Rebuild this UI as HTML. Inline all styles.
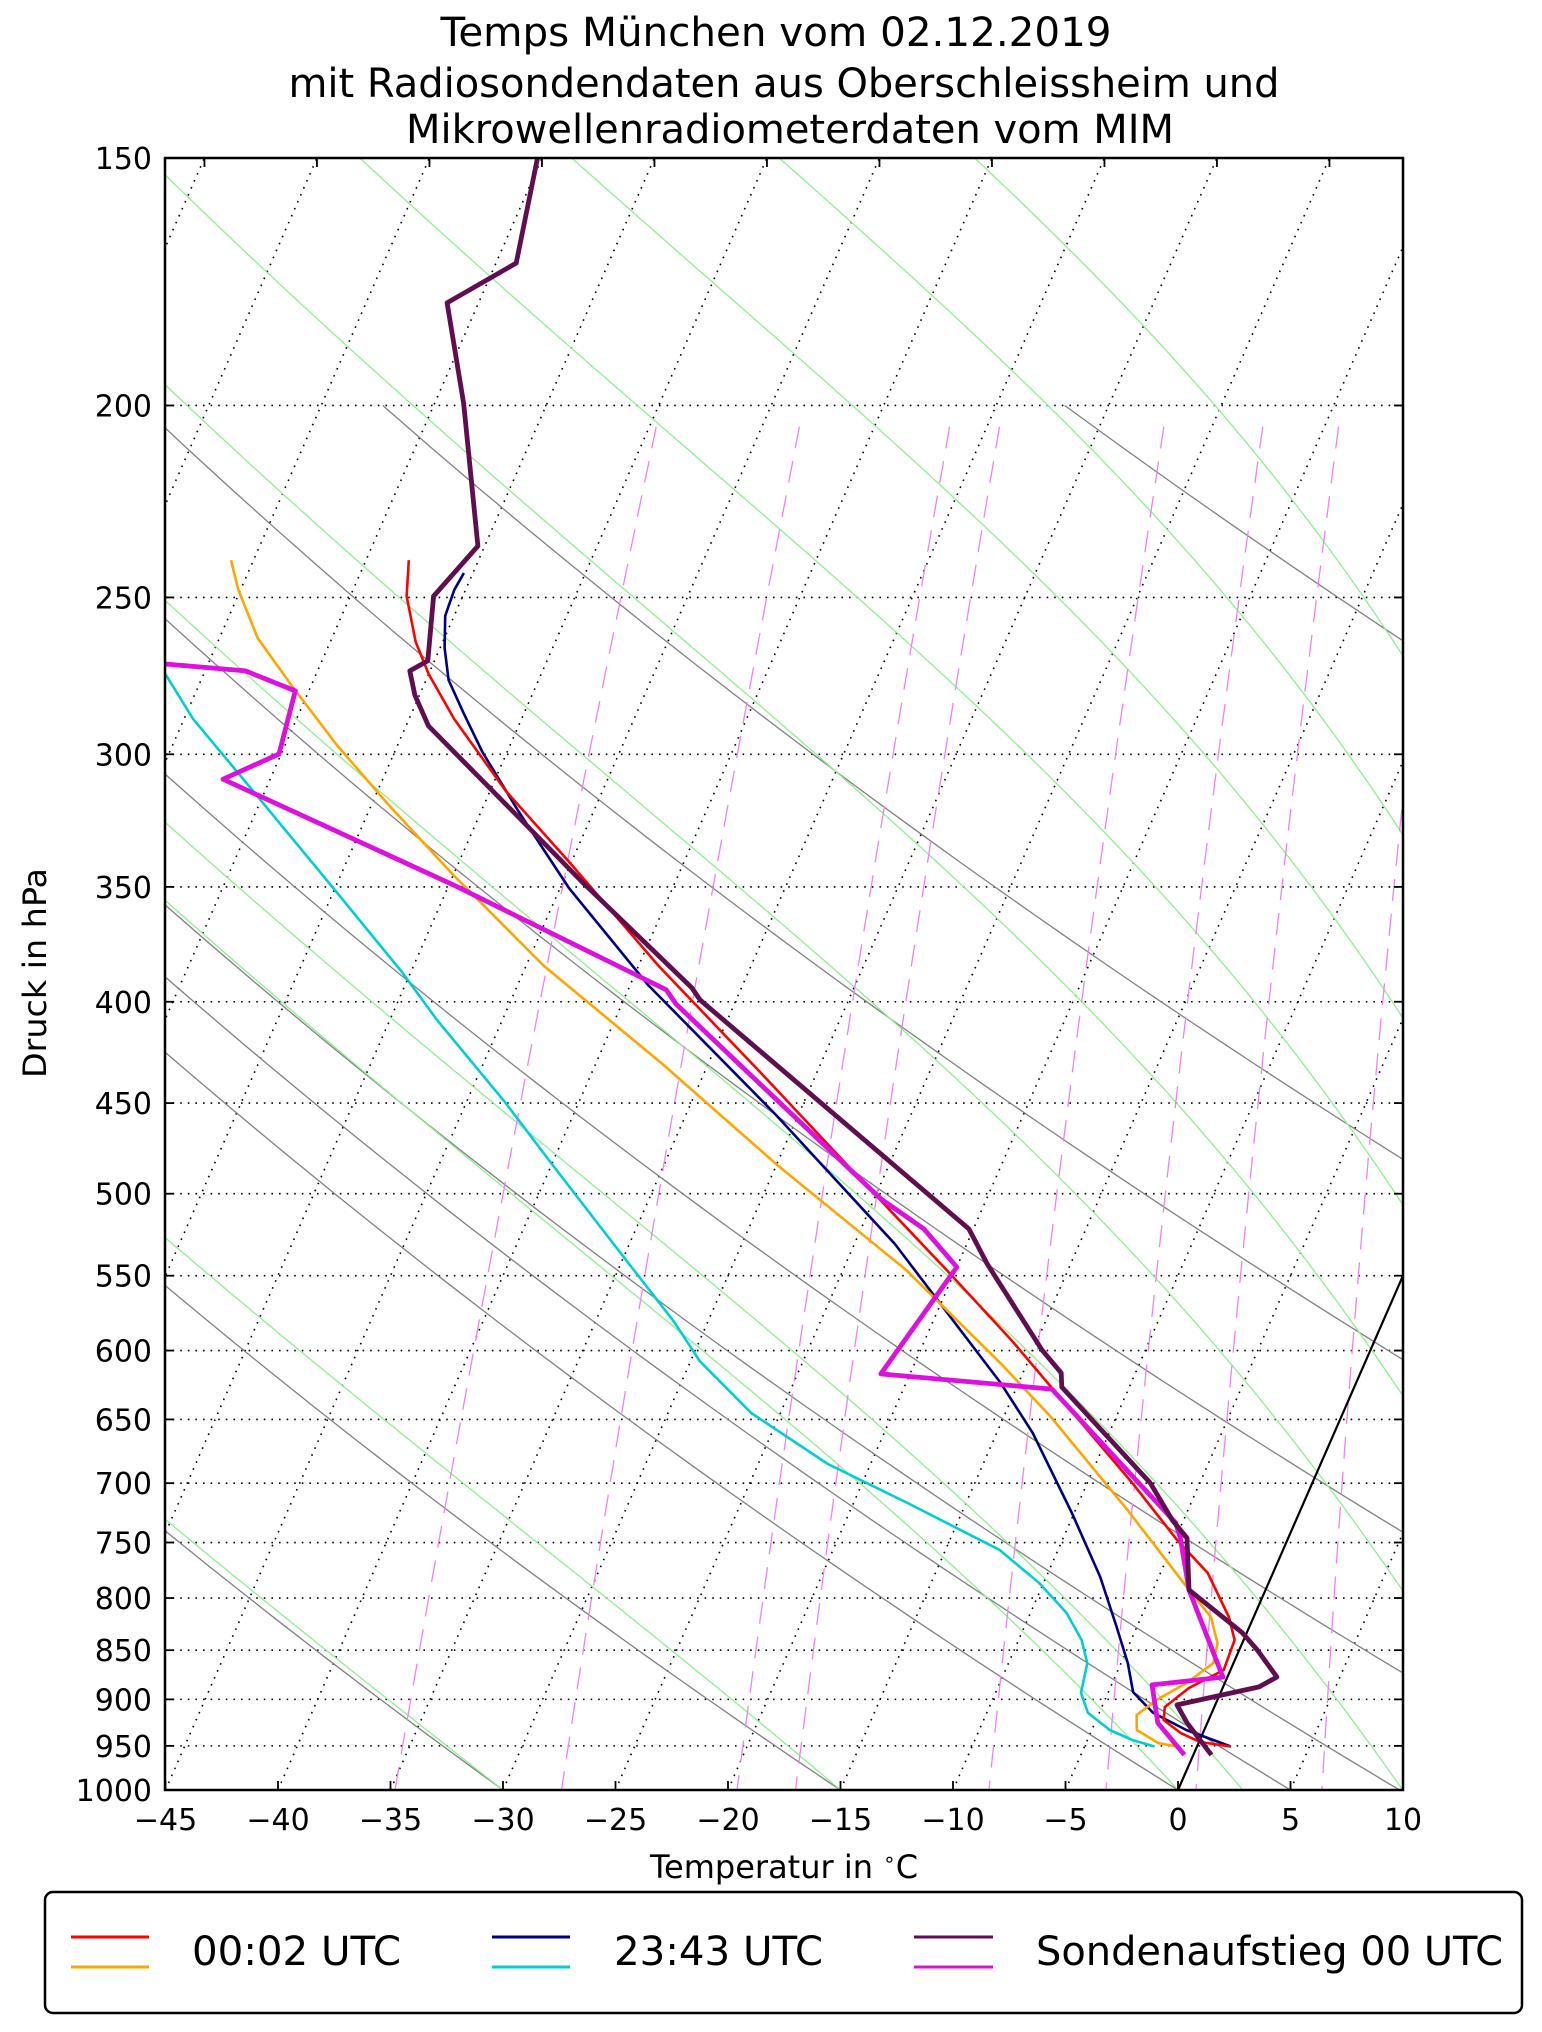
<!DOCTYPE html>
<html><head><meta charset="utf-8"><title>Temps München</title>
<style>
html,body{margin:0;padding:0;background:#fff;}
svg{display:block;font-family:"DejaVu Sans","Liberation Sans",sans-serif;}
</style></head>
<body>
<svg id="chart" width="1542" height="2032" viewBox="0 0 1542 2032" xmlns="http://www.w3.org/2000/svg">
<defs><clipPath id="plotclip"><rect x="165" y="158" width="1238" height="1632"/></clipPath></defs>
<rect x="0" y="0" width="1542" height="2032" fill="#fff"/>
<g font-size="40" text-anchor="middle" fill="#000">
<text x="776" y="46" textLength="671" lengthAdjust="spacingAndGlyphs">Temps München vom 02.12.2019</text>
<text x="784" y="97" textLength="991" lengthAdjust="spacingAndGlyphs">mit Radiosondendaten aus Oberschleissheim und</text>
<text x="790" y="143" textLength="768" lengthAdjust="spacingAndGlyphs">Mikrowellenradiometerdaten vom MIM</text>
</g>
<g id="bg" clip-path="url(#plotclip)"></g>
<g id="series" clip-path="url(#plotclip)"></g>
<g id="axes"></g>
<text x="0" y="0" transform="translate(46,973) rotate(-90)" font-size="32" text-anchor="middle" textLength="210" lengthAdjust="spacingAndGlyphs">Druck in hPa</text>
<text x="784" y="1878" font-size="32" text-anchor="middle">Temperatur in <tspan font-size="20" dy="-12">∘</tspan><tspan dy="12">C</tspan></text>
<g>
<rect x="45" y="1892" width="1477" height="121" rx="8" ry="8" fill="#fff" stroke="#000" stroke-width="2.5"/>
<line x1="71" y1="1937" x2="149" y2="1937" stroke="#ff0000" stroke-width="3"/>
<line x1="71" y1="1967" x2="149" y2="1967" stroke="#ffa500" stroke-width="3"/>
<text x="192" y="1965" font-size="40" textLength="209" lengthAdjust="spacingAndGlyphs">00:02 UTC</text>
<line x1="492" y1="1937" x2="570" y2="1937" stroke="#000080" stroke-width="3"/>
<line x1="492" y1="1967" x2="570" y2="1967" stroke="#00ced1" stroke-width="3"/>
<text x="614" y="1965" font-size="40" textLength="209" lengthAdjust="spacingAndGlyphs">23:43 UTC</text>
<line x1="914" y1="1937" x2="993" y2="1937" stroke="#5f0f4f" stroke-width="3"/>
<line x1="914" y1="1967" x2="993" y2="1967" stroke="#dd11dd" stroke-width="3"/>
<text x="1036" y="1965" font-size="40" textLength="467" lengthAdjust="spacingAndGlyphs">Sondenaufstieg 00 UTC</text>
</g>
</svg>
<script>
// ---- data (pressure hPa, temperature degC) ----
const sondeP = [150,169.5,177.5,199.6,235.5,249.6,269.1,272.3,280.1,290.3,322.3,347.6,393.6,399.2,520.9,542.6,599.6,615.8,626,699.9,730.7,746.1,792.5,833,849.8,876.9,887.1,905.8,925,960];
const sondeT = [-60.2,-59.1,-61.4,-58.7,-55.3,-56.3,-55.3,-55.9,-55.2,-54.0,-48.3,-44.2,-37.2,-36.6,-20.2,-18.7,-14.6,-13.3,-13.0,-7.2,-5.5,-4.5,-3.4,-0.2,0.8,2.2,1.6,-1.7,-0.9,0.8];
const sondeTdP = [270.1,272.3,278.7,299.9,308.8,349.2,394.5,401,503,520.9,544.5,616.5,627.5,733,746,792.5,877,885,925,960];
const sondeTd = [-66.9,-63.2,-60.6,-60.1,-62.1,-49.8,-38.3,-37.6,-24.7,-22.2,-20.0,-21.3,-13.4,-5.3,-4.8,-3.4,-0.2,-3.2,-2.2,-0.4];
const redP = [239.4,249.6,263.3,273.3,287.9,313.1,340,383.7,436,484.1,546.3,593.4,699.9,747.8,777,817.8,840,869.8,888.2,908,921.8,935.8,945.7,950.7];
const redT = [-58.1,-57.5,-56.2,-55.0,-53.0,-49.3,-45.1,-39.1,-32.3,-26.8,-20.4,-16.1,-8.0,-4.9,-2.9,-1.1,-0.4,-0.3,-1.5,-2.2,-2.0,-1.0,0.05,1.5];
const orangeP = [239.4,247.8,262.1,277.4,296.8,317.8,345.2,383.7,429.5,484.1,546.3,608.7,648.2,722,792.5,817.8,843,862.8,882.9,900.6,916.5,932.6,946.8,950.7];
const orangeTd = [-66.0,-65.1,-63.3,-60.8,-57.7,-54.3,-50.0,-44.2,-37.1,-29.9,-22.2,-16.2,-12.9,-7.7,-3.4,-1.9,-1.1,-0.9,-1.7,-2.7,-3.3,-3.0,-1.8,-0.9];
const navyP = [243,247.8,255.4,265.1,275.2,285.9,299.2,320.1,350.5,392.3,456.2,530.1,623,660.3,724.7,780.6,827.3,862.8,892.4,914.3,932.6,950.7];
const navyT = [-55.4,-55.5,-55.4,-54.8,-54.0,-52.7,-51.1,-48.4,-44.6,-39.2,-31.0,-23.2,-15.8,-13.4,-10.1,-7.6,-5.9,-4.7,-3.9,-2.6,-0.8,1.5];
const cyanP = [272.6,287.9,312,349.6,386.4,408.6,449.4,484.1,530.1,580.3,607.3,645.2,684.6,716.3,756.5,786,813.9,840,862.8,893.3,914.3,932.6,943.5,950.7];
const cyanTd = [-66.8,-64.6,-60.7,-55.2,-50.4,-47.9,-43.3,-39.9,-35.7,-31.5,-29.6,-26.3,-21.9,-17.6,-12.6,-10.2,-8.4,-7.2,-6.5,-6.2,-5.5,-4.2,-3.0,-1.9];
const pressureTicks = [150,200,250,300,350,400,450,500,550,600,650,700,750,800,850,900,950,1000];
const tempTicks = [-45,-40,-35,-30,-25,-20,-15,-10,-5,0,5,10];
const dryTheta = [243.15,258.15,273.15,278.15,283,292,303,317,334,382];
const moistT0 = [-30,-15,0];
const moistThetaE = [288,303,318,333,348,363,378,393];
const mixTd0 = [-34.8,-27.4,-19.6,-17.0,-8.4,-3.2,0.8,6.4];

// ---- axis functions ----
const NS = "http://www.w3.org/2000/svg";
const PL = 165, PR = 1403, PT = 158, PB = 1790, SKEW = 16.726, XS = 22.5, X0 = 1178;
function yP(p){ return PT + (PB-PT)*Math.log(p/150)/Math.log(1000/150); }
function xT(t,p){ return X0 + XS*(t + SKEW*Math.log(1000/p)); }
function mk(tag, parent, attrs){ const e=document.createElementNS(NS,tag); for(const k in attrs) e.setAttribute(k,attrs[k]); parent.appendChild(e); return e; }
function ptsStr(P,T){ return P.map((p,i)=>xT(T[i],p).toFixed(1)+","+yP(p).toFixed(1)).join(" "); }
const bg = document.getElementById("bg"), series = document.getElementById("series"), axes = document.getElementById("axes");

// isotherms (dotted)
for(let t=-110;t<=10;t+=5){
  const l = mk("line", bg, {x1:xT(t,1000),y1:yP(1000),x2:xT(t,150),y2:yP(150),stroke:"#000","stroke-width":1.6,"stroke-dasharray":"1.6,6"});
  
  
}
pressureTicks.forEach(p=>{
  const l = mk("line", bg, {x1:PL,y1:yP(p),x2:PR,y2:yP(p),stroke:"#000","stroke-width":1.6,"stroke-dasharray":"1.6,6"});
  
  
});
// dry adiabats
dryTheta.forEach(th=>{
  const P=[], T=[];
  for(let p=1000;p>=200;p-=10){ P.push(p); T.push(th*Math.pow(p/1000,0.2857)-273.15); }
  const l = mk("polyline", bg, {points:ptsStr(P,T),fill:"none",stroke:"#808080","stroke-width":1.3});
  
  
});
// moist adiabats
function es(tc){ return 6.112*Math.exp(17.67*tc/(tc+243.5)); }
function thetaE0(tc){ const T=tc+273.15, e=es(tc), rs=0.622*e/(1000-e); return T*Math.exp(2.501e6*rs/(1005.7*T)); }
function solveT0(te){ let a=-60,b=60; for(let i=0;i<60;i++){ const m=(a+b)/2; if(thetaE0(m)<te) a=m; else b=m; } return (a+b)/2; }
const moistStarts = moistT0.concat(moistThetaE.map(solveT0));
moistStarts.forEach(t0=>{
  let T=t0+273.15; const P=[], TT=[];
  for(let p=1000;p>=140;p-=1){
    P.push(p); TT.push(T-273.15);
    const e=es(T-273.15), rs=0.622*e/(p-e);
    const dTdp=(287.04*T+2.501e6*rs)/(p*(1005.7+2.501e6*2.501e6*rs*0.622/(287.04*T*T)));
    T -= dTdp;
  }
  const l = mk("polyline", bg, {points:ptsStr(P,TT),fill:"none",stroke:"#90ee90","stroke-width":1.3});
  
  
});
// mixing ratio lines (drawn top -> bottom)
mixTd0.forEach(td0=>{
  const e0=es(td0), P=[], T=[];
  for(let p=205;p<=1000;p+=5){ const e=e0*p/1000, a=Math.log(e/6.112); P.push(p); T.push(243.5*a/(17.67-a)); }
  const l = mk("polyline", bg, {points:ptsStr(P,T),fill:"none",stroke:"#ee82ee","stroke-width":1.3,"stroke-dasharray":"22,13"});
  
  
});
const zl = mk("line", bg, {x1:xT(0,1000),y1:yP(1000),x2:xT(0,150),y2:yP(150),stroke:"#000","stroke-width":2.2});



// ---- series ----
function drawSeries(P,T,color,w,name){
  const l = mk("polyline", series, {points:ptsStr(P,T),fill:"none",stroke:color,"stroke-width":w,"stroke-linejoin":"round"});
  
  
}
drawSeries(cyanP,cyanTd,"#00ced1",2.6,"dewpoint-2343-line");
drawSeries(navyP,navyT,"#000080",2.6,"temperature-2343-line");
drawSeries(orangeP,orangeTd,"#ffa500",2.6,"dewpoint-0002-line");
drawSeries(redP,redT,"#ff0000",2.6,"temperature-0002-line");
drawSeries(sondeTdP,sondeTd,"#dd11dd",4.8,"sonde-dewpoint-line");
drawSeries(sondeP,sondeT,"#5f0f4f",4.8,"sonde-temperature-line");

// ---- axes frame, ticks, labels ----
const fr = mk("rect", axes, {x:PL,y:PT,width:PR-PL,height:PB-PT,fill:"none",stroke:"#000","stroke-width":2.5});


pressureTicks.forEach(p=>{
  const y=yP(p);
  const t1 = mk("line", axes, {x1:PL,y1:y,x2:PL+9,y2:y,stroke:"#000","stroke-width":1.8});
  
  
  const t2 = mk("line", axes, {x1:PR-9,y1:y,x2:PR,y2:y,stroke:"#000","stroke-width":1.8});
  
  
  const tx = mk("text", axes, {x:152,y:y+11,"font-size":30,"text-anchor":"end"});
  tx.textContent = String(p);
  
  
});
tempTicks.forEach(t=>{
  const x=xT(t,1000);
  const t1 = mk("line", axes, {x1:x,y1:PB,x2:x,y2:PB-9,stroke:"#000","stroke-width":1.8});
  
  
  const tx = mk("text", axes, {x:x,y:1830,"font-size":30,"text-anchor":"middle"});
  tx.textContent = t<0 ? "\u2212"+Math.abs(t) : String(t);
  
  
});
for(let t=-75;t<=-25;t+=5){
  const x=xT(t,150);
  if(x<PL||x>PR) continue;
  const t1 = mk("line", axes, {x1:x,y1:PT,x2:x,y2:PT+9,stroke:"#000","stroke-width":1.8});
  
  
}
</script>
</body></html>
